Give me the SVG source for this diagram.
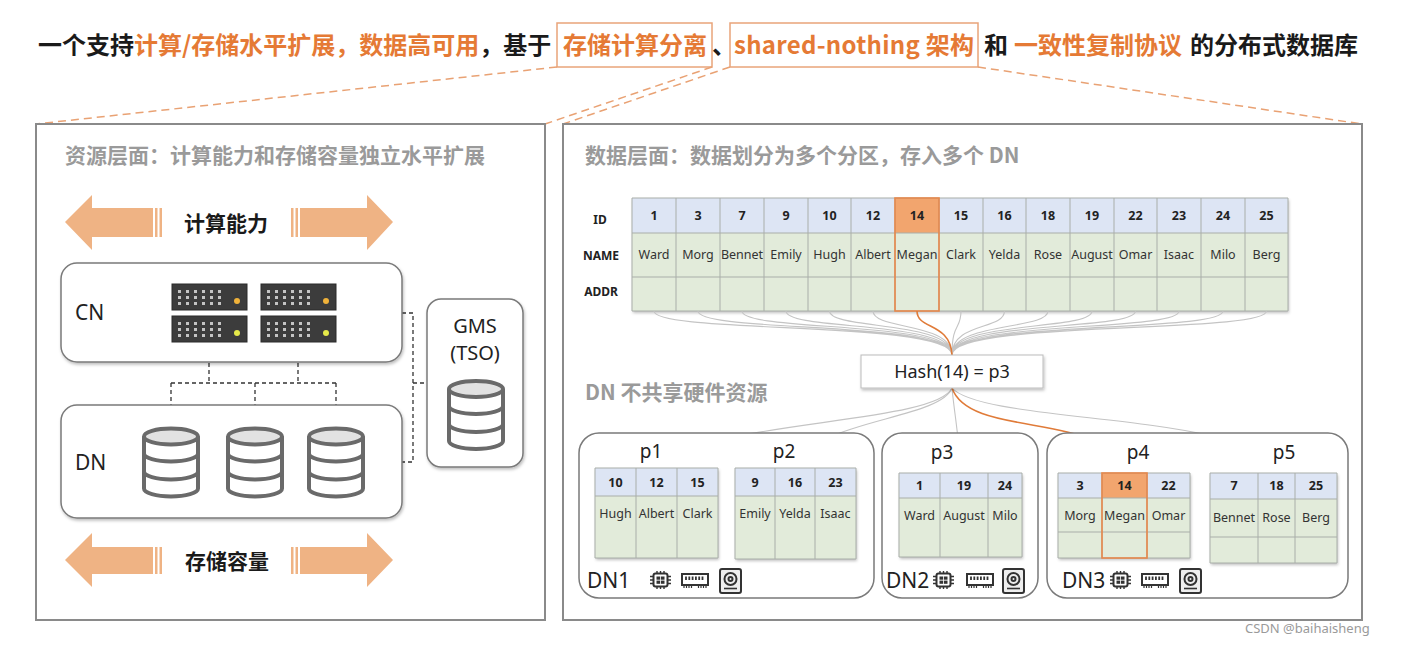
<svg xmlns="http://www.w3.org/2000/svg" xmlns:xlink="http://www.w3.org/1999/xlink" width="1412" height="646" viewBox="0 0 1412 646">
<style>
.cjk{font-family:"Noto Sans CJK SC","Noto Sans",sans-serif}
.lat{font-family:"Noto Sans","Open Sans","Noto Sans CJK SC",sans-serif}
.ttl{font-size:24px;font-weight:bold}
.blk{fill:#1a1a1a}
.org{fill:#e57a35}
.ptitle{font-size:21px;font-weight:bold;fill:#9a9a9a}
.panel{fill:#fff;stroke:#8a8a8a;stroke-width:2}
.box{fill:#fff;stroke:#7a7a7a;stroke-width:1.5}
.dash-o{stroke:#e9a274;stroke-width:1.5;stroke-dasharray:8 5;fill:none}
.dash-k{stroke:#333;stroke-width:1.3;stroke-dasharray:4 3;fill:none}
.arrow{fill:#efb384}
.hdr{fill:#dde5f4}
.bdy{fill:#e2ebda}
.grid{stroke:#a9aea9;stroke-width:1;fill:none}
.hl{fill:#f2a56e}
.hlb{fill:none;stroke:#e8884a;stroke-width:1.6}
.idt{font-size:12.5px;font-weight:bold;fill:#222;text-anchor:middle}
.nm{font-size:12.5px;fill:#333;text-anchor:middle}
.lbl{font-size:12px;font-weight:bold;fill:#222;text-anchor:middle}
.fan{fill:none;stroke:#c4c4c4;stroke-width:1.1}
.fan-o{fill:none;stroke:#e07b39;stroke-width:1.6}
.pl{font-size:19px;fill:#222;text-anchor:middle}
.icon{fill:none;stroke:#333;stroke-width:2}
.dnl{font-size:21px;fill:#222}
</style>
<defs>
<filter id="sh" x="-10%" y="-10%" width="130%" height="140%"><feDropShadow dx="1" dy="2" stdDeviation="1.5" flood-color="#000" flood-opacity="0.25"/></filter>
<marker id="ag" viewBox="0 0 8 8" refX="7" refY="4" markerWidth="6" markerHeight="6" orient="auto"><path d="M0,0 L8,4 L0,8" fill="none" stroke="#bdbdbd" stroke-width="1.2"/></marker>
<marker id="ao" viewBox="0 0 8 8" refX="7" refY="4" markerWidth="6" markerHeight="6" orient="auto"><path d="M0,0 L8,4 L0,8 z" fill="#e07b39"/></marker>
<g id="srv">
<rect x="0" y="0" width="75" height="26" fill="#3c3c3c" stroke="#2a2a2a" stroke-width="1"/>
<g fill="#c4c4c4">
<rect x="6" y="6" width="3" height="3"/><rect x="14" y="6" width="3" height="3"/><rect x="22" y="6" width="3" height="3"/><rect x="30" y="6" width="3" height="3"/><rect x="38" y="6" width="3" height="3"/><rect x="46" y="6" width="3" height="3"/>
<rect x="6" y="12" width="3" height="3"/><rect x="14" y="12" width="3" height="3"/><rect x="22" y="12" width="3" height="3"/><rect x="30" y="12" width="3" height="3"/><rect x="38" y="12" width="3" height="3"/><rect x="46" y="12" width="3" height="3"/>
<rect x="6" y="18" width="3" height="3"/><rect x="14" y="18" width="3" height="3"/><rect x="22" y="18" width="3" height="3"/><rect x="30" y="18" width="3" height="3"/><rect x="38" y="18" width="3" height="3"/><rect x="46" y="18" width="3" height="3"/>
</g>
</g>
<g id="db">
<path d="M-27,-26 V26 A27,8 0 0 0 27,26 V-26" fill="#fff" stroke="#6a6a6a" stroke-width="4"/>
<ellipse cx="0" cy="-26" rx="27" ry="8" fill="#e2e2e2" stroke="#6a6a6a" stroke-width="4"/>
<path d="M-27,-9 A27,8 0 0 0 27,-9 M-27,9 A27,8 0 0 0 27,9" fill="none" stroke="#6a6a6a" stroke-width="4"/>
</g>
<g id="chip">
<rect x="3.5" y="2.5" width="14" height="13" rx="2" class="icon"/>
<rect x="6.5" y="5.5" width="3.6" height="3.2" fill="#333"/><rect x="10.9" y="5.5" width="3.6" height="3.2" fill="#333"/>
<rect x="6.5" y="9.6" width="3.6" height="3.2" fill="#333"/><rect x="10.9" y="9.6" width="3.6" height="3.2" fill="#333"/>
<path d="M0,5.5H3.5M0,9H3.5M0,12.5H3.5M17.5,5.5H21M17.5,9H21M17.5,12.5H21M7,0V2.5M10.5,0V2.5M14,0V2.5M7,15.5V18M10.5,15.5V18M14,15.5V18" stroke="#333" stroke-width="1.4"/>
</g>
<g id="ram">
<rect x="1" y="1" width="26" height="11" class="icon"/>
<path d="M5,3.5V7M8.3,3.5V7M11.6,3.5V7M14.9,3.5V7M18.2,3.5V7M21.5,3.5V7" stroke="#333" stroke-width="1.8"/>
<path d="M3,12V15M5.5,12V15M8,12V15M10.5,12V15M17.5,12V15M20,12V15M22.5,12V15M25,12V15" stroke="#333" stroke-width="1.2"/>
</g>
<g id="disk">
<rect x="1" y="1" width="21" height="24" rx="2" fill="#eee" stroke="#333" stroke-width="2"/>
<circle cx="11.5" cy="11" r="6" class="icon" stroke-width="1.6"/>
<circle cx="11.5" cy="11" r="2" class="icon" stroke-width="1.6"/>
<path d="M5,20.5H18" stroke="#333" stroke-width="1.6"/>
</g>
</defs>

<rect width="1412" height="646" fill="#fff"/>

<g id="title">
<text class="cjk ttl" y="54"><tspan x="38" class="blk">一个支持</tspan><tspan class="org">计算/存储水平扩展，数据高可用</tspan><tspan class="blk">，基于</tspan></text>
<rect x="557" y="23" width="155" height="44" fill="none" stroke="#e9a47a" stroke-width="1.5"/>
<text class="cjk ttl org" x="563" y="54">存储计算分离</text>
<text class="cjk ttl blk" x="712" y="54">、</text>
<rect x="730" y="23" width="248" height="44" fill="none" stroke="#e9a47a" stroke-width="1.5"/>
<text class="cjk ttl org" x="734" y="54" textLength="240" lengthAdjust="spacing">shared-nothing 架构</text>
<text class="cjk ttl blk" x="984" y="54">和</text>
<text class="cjk ttl org" x="1014" y="54">一致性复制协议</text>
<text class="cjk ttl blk" x="1190" y="54">的分布式数据库</text>
</g>

<g id="title-links">
<path class="dash-o" d="M557,67 L36,124"/>
<path class="dash-o" d="M712,67 L545,124"/>
<path class="dash-o" d="M730,67 L563,124"/>
<path class="dash-o" d="M978,67 L1362,124"/>
</g>

<g id="panel-resource">
<rect class="panel" x="36" y="124" width="509" height="496"/>
<text class="cjk ptitle" x="65" y="163">资源层面：计算能力和存储容量独立水平扩展</text>
</g>

<g id="panel-data">
<rect class="panel" x="563" y="124" width="799" height="496"/>
<text class="cjk ptitle" x="585" y="163">数据层面：数据划分为多个分区，存入多个 DN</text>
<text class="cjk ptitle" x="585" y="400">DN 不共享硬件资源</text>
</g>

<g id="arrow-compute">
<polygon class="arrow" points="65,222 92,195 92,208 153,208 153,237 92,237 92,250"/>
<rect class="arrow" x="155" y="208" width="2.5" height="29"/><rect class="arrow" x="159.5" y="208" width="2.5" height="29"/>
<rect class="arrow" x="291" y="208" width="2.5" height="29"/><rect class="arrow" x="295.5" y="208" width="2.5" height="29"/>
<polygon class="arrow" points="300,208 367,208 367,195 393,222 367,250 367,237 300,237"/>
<text class="cjk" x="226" y="231" font-size="21" font-weight="bold" fill="#1a1a1a" text-anchor="middle">计算能力</text>
</g>

<g id="arrow-storage">
<polygon class="arrow" points="65,560 92,533 92,547 153,547 153,574 92,574 92,587"/>
<rect class="arrow" x="155" y="547" width="2.5" height="27"/><rect class="arrow" x="159.5" y="547" width="2.5" height="27"/>
<rect class="arrow" x="291" y="547" width="2.5" height="27"/><rect class="arrow" x="295.5" y="547" width="2.5" height="27"/>
<polygon class="arrow" points="300,547 367,547 367,533 393,560 367,587 367,574 300,574"/>
<text class="cjk" x="227" y="569" font-size="21" font-weight="bold" fill="#1a1a1a" text-anchor="middle">存储容量</text>
</g>

<g id="links-left">
<path class="dash-k" d="M209,342 V383 M298,342 V383 M171,383 H336 M171,383 V428 M255,383 V428 M336,383 V428"/>
<path class="dash-k" d="M402,313 H413 V462 H402 M413,383 H427"/>
</g>

<g id="cn">
<rect class="box" x="61" y="263" width="341" height="99" rx="16" filter="url(#sh)"/>
<text class="lat" x="75" y="320" font-size="21" fill="#222">CN</text>
<use href="#srv" x="172" y="284"/>
<use href="#srv" x="261" y="284"/>
<use href="#srv" x="172" y="316"/>
<use href="#srv" x="261" y="316"/>
<circle cx="237" cy="301" r="3" fill="#f0b23a"/>
<circle cx="326" cy="301" r="3" fill="#f0b23a"/>
<circle cx="237" cy="333" r="3" fill="#e6ea4a"/>
<circle cx="326" cy="333" r="3" fill="#e6ea4a"/>
</g>

<g id="dn">
<rect class="box" x="61" y="405" width="341" height="113" rx="16" filter="url(#sh)"/>
<text class="lat" x="75" y="470" font-size="21" fill="#222">DN</text>
<use href="#db" transform="translate(171,462.5)"/>
<use href="#db" transform="translate(255,462.5)"/>
<use href="#db" transform="translate(336,462.5)"/>
</g>

<g id="gms">
<rect class="box" x="427" y="299" width="96" height="168" rx="14" filter="url(#sh)"/>
<text class="lat" x="475" y="333" font-size="20" fill="#222" text-anchor="middle">GMS</text>
<text class="lat" x="475" y="360" font-size="20" fill="#222" text-anchor="middle">(TSO)</text>
<use href="#db" transform="translate(476,415)"/>
</g>

<g id="table-main" class="lat">
<rect x="632" y="198" width="656" height="113" fill="#e2ebda" filter="url(#sh)"/>
<rect class="hdr" x="632" y="198" width="656" height="35"/>
<rect class="hl" x="895" y="198" width="44" height="35"/>
<path class="grid" d="M632,198H1288V311H632Z M632,233H1288 M632,277H1288 M676,198V311 M720,198V311 M764,198V311 M808,198V311 M851,198V311 M895,198V311 M939,198V311 M983,198V311 M1026,198V311 M1070,198V311 M1114,198V311 M1157,198V311 M1201,198V311 M1245,198V311"/>
<rect class="hlb" x="895" y="198" width="44" height="113"/>
<text class="lbl" x="600" y="224">ID</text>
<text class="lbl" x="601" y="260">NAME</text>
<text class="lbl" x="601" y="296">ADDR</text>
<text class="idt" y="220"><tspan x="654">1</tspan><tspan x="698">3</tspan><tspan x="742">7</tspan><tspan x="786">9</tspan><tspan x="829.5">10</tspan><tspan x="873">12</tspan><tspan x="917">14</tspan><tspan x="961">15</tspan><tspan x="1004.5">16</tspan><tspan x="1048">18</tspan><tspan x="1092">19</tspan><tspan x="1135.5">22</tspan><tspan x="1179">23</tspan><tspan x="1223">24</tspan><tspan x="1266.5">25</tspan></text>
<text class="nm" y="259"><tspan x="654">Ward</tspan><tspan x="698">Morg</tspan><tspan x="742">Bennet</tspan><tspan x="786">Emily</tspan><tspan x="829.5">Hugh</tspan><tspan x="873">Albert</tspan><tspan x="917">Megan</tspan><tspan x="961">Clark</tspan><tspan x="1004.5">Yelda</tspan><tspan x="1048">Rose</tspan><tspan x="1092">August</tspan><tspan x="1135.5">Omar</tspan><tspan x="1179">Isaac</tspan><tspan x="1223">Milo</tspan><tspan x="1266.5">Berg</tspan></text>
</g>

<g id="connectors">
<path class="fan" d="M654,311 C654,334 952,320 952,355 M698,311 C698,333 952,320 952,355 M742,311 C742,332 952,320 952,355 M786,311 C786,331 952,320 952,355 M829.5,311 C829.5,330 952,320 952,355 M873,311 C873,330 952,322 952,355 M961,311 C961,330 952,322 952,355 M1004.5,311 C1004.5,330 952,322 952,355 M1048,311 C1048,330 952,322 952,355 M1092,311 C1092,331 952,320 952,355 M1135.5,311 C1135.5,331 952,320 952,355 M1179,311 C1179,332 952,320 952,355 M1223,311 C1223,333 952,320 952,355 M1266.5,311 C1266.5,334 952,320 952,355"/>
<path class="fan-o" d="M917,311 C917,330 950,322 952,355"/>
<path class="fan" marker-end="url(#ag)" d="M952,388 C935,425 700,420 657,467"/>
<path class="fan" marker-end="url(#ag)" d="M952,388 C940,420 810,420 796,467"/>
<path class="fan" marker-end="url(#ag)" d="M952,388 C955,420 960,440 960,472"/>
<path class="fan" marker-end="url(#ag)" d="M952,388 C985,425 1262,412 1273,472"/>
<path class="fan-o" marker-end="url(#ao)" d="M952,388 C970,440 1110,410 1122,472"/>
</g>

<g id="hash">
<rect x="861" y="355" width="182" height="33" fill="#fff" stroke="#bcbcbc" stroke-width="1" filter="url(#sh)"/>
<text class="lat" x="952" y="378" font-size="18" fill="#222" text-anchor="middle">Hash(14) = p3</text>
</g>

<g id="dn1" class="lat">
<rect class="box" x="579" y="433" width="295" height="165" rx="20" fill="none"/>
<rect x="595" y="468" width="123" height="90" fill="#e2ebda" filter="url(#sh)"/>
<rect class="hdr" x="595" y="468" width="123" height="28"/>
<path class="grid" d="M595,468H718V558H595Z M595,496H718 M636,468V558 M677,468V558"/>
<text class="idt" y="486.5"><tspan x="615.5">10</tspan><tspan x="656.5">12</tspan><tspan x="697.5">15</tspan></text>
<text class="nm" y="517.5"><tspan x="615.5">Hugh</tspan><tspan x="656.5">Albert</tspan><tspan x="697.5">Clark</tspan></text>
<rect x="735" y="468" width="121" height="91" fill="#e2ebda" filter="url(#sh)"/>
<rect class="hdr" x="735" y="468" width="121" height="28"/>
<path class="grid" d="M735,468H856V559H735Z M735,496H856 M775,468V559 M815,468V559"/>
<text class="idt" y="486.5"><tspan x="755">9</tspan><tspan x="795">16</tspan><tspan x="835.5">23</tspan></text>
<text class="nm" y="517.5"><tspan x="755">Emily</tspan><tspan x="795">Yelda</tspan><tspan x="835.5">Isaac</tspan></text>
<text class="pl" x="651" y="458">p1</text>
<text class="pl" x="784" y="458">p2</text>
<text class="dnl" x="587" y="588">DN1</text>
<use href="#chip" x="650" y="571"/>
<use href="#ram" x="681" y="573"/>
<use href="#disk" x="719" y="568"/>
</g>

<g id="dn2" class="lat">
<rect class="box" x="882" y="433" width="156" height="165" rx="20"/>
<rect x="899" y="473" width="123" height="84" fill="#e2ebda" filter="url(#sh)"/>
<rect class="hdr" x="899" y="473" width="123" height="25"/>
<path class="grid" d="M899,473H1022V557H899Z M899,498H1022 M940,473V557 M988,473V557"/>
<text class="idt" y="489.5"><tspan x="919.5">1</tspan><tspan x="964">19</tspan><tspan x="1005">24</tspan></text>
<text class="nm" y="519.5"><tspan x="919.5">Ward</tspan><tspan x="964">August</tspan><tspan x="1005">Milo</tspan></text>
<text class="pl" x="942" y="459">p3</text>
<text class="dnl" x="886" y="588">DN2</text>
<use href="#chip" x="933" y="571"/>
<use href="#ram" x="966" y="573"/>
<use href="#disk" x="1002" y="568"/>
</g>

<g id="dn3" class="lat">
<rect class="box" x="1047" y="433" width="301" height="165" rx="20"/>
<rect x="1058" y="473" width="132" height="85" fill="#e2ebda" filter="url(#sh)"/>
<rect class="hdr" x="1058" y="473" width="132" height="25"/>
<rect class="hl" x="1102" y="473" width="45" height="25"/>
<path class="grid" d="M1058,473H1190V558H1058Z M1058,498H1190 M1058,532H1190 M1102,473V558 M1147,473V558"/>
<rect class="hlb" x="1102" y="473" width="45" height="85"/>
<text class="idt" y="489.5"><tspan x="1080">3</tspan><tspan x="1124.5">14</tspan><tspan x="1168.5">22</tspan></text>
<text class="nm" y="520"><tspan x="1080">Morg</tspan><tspan x="1124.5">Megan</tspan><tspan x="1168.5">Omar</tspan></text>
<rect x="1210" y="473" width="127" height="90" fill="#e2ebda" filter="url(#sh)"/>
<rect class="hdr" x="1210" y="473" width="127" height="26"/>
<path class="grid" d="M1210,473H1337V563H1210Z M1210,499H1337 M1210,537H1337 M1258,473V563 M1295,473V563"/>
<text class="idt" y="490"><tspan x="1234">7</tspan><tspan x="1276.5">18</tspan><tspan x="1316">25</tspan></text>
<text class="nm" y="522"><tspan x="1234">Bennet</tspan><tspan x="1276.5">Rose</tspan><tspan x="1316">Berg</tspan></text>
<text class="pl" x="1138" y="459">p4</text>
<text class="pl" x="1284" y="459">p5</text>
<text class="dnl" x="1062" y="588">DN3</text>
<use href="#chip" x="1110" y="571"/>
<use href="#ram" x="1141" y="573"/>
<use href="#disk" x="1179" y="568"/>
</g>

<text class="lat" x="1245" y="633" font-size="13" fill="#9a9a9a">CSDN @baihaisheng</text>
</svg>
